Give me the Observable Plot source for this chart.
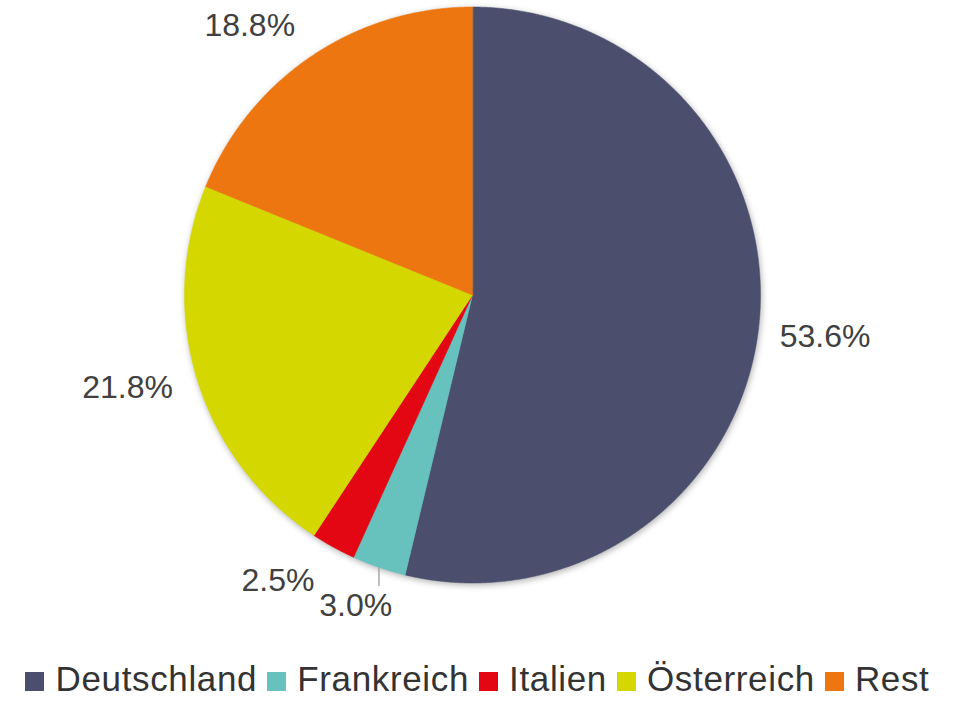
<!DOCTYPE html>
<html>
<head>
<meta charset="utf-8">
<script src="https://cdn.jsdelivr.net/npm/d3@7"></script>
<script src="https://cdn.jsdelivr.net/npm/@observablehq/plot@0.6"></script>
<style>
  html, body { margin: 0; padding: 0; background: #fff; }
  #chart { width: 959px; height: 701px; position: relative; }
  .legend { position: absolute; left: 0; top: 663px; width: 959px; text-align: center; white-space: nowrap; font-family: "Liberation Sans", Arial, sans-serif; font-size: 35px; letter-spacing: 0.65px; line-height: 32px; color: #333; padding-left: 6px; box-sizing: border-box; }
  .legend .item { display: inline; margin-right: 10px; }
  .legend .sw { width: 19px; height: 19px; margin-right: 11px; display: inline-block; vertical-align: baseline; }
</style>
</head>
<body>
<div id="chart"></div>
<script>
const categories = ["Deutschland", "Frankreich", "Italien", "Österreich", "Rest"];
const values = [53.6, 3.0, 2.5, 21.8, 18.8];
const labels = ["53.6%", "3.0%", "2.5%", "21.8%", "18.8%"];
const colors = ["#4b4f6d", "#67c2be", "#e30613", "#d4d800", "#ee7610"];

// slice angles (clockwise from 12 o'clock)
const pie = d3.pie().sort(null).value(d => d.value).startAngle(0).endAngle(2 * Math.PI);
const arcs = pie(categories.map((c, i) => ({name: c, value: values[i], label: labels[i]})));

// polygon points for each slice in unit space
const pts = [];
for (const a of arcs) {
  pts.push({name: a.data.name, x: 0, y: 0});
  const n = Math.max(2, Math.ceil((a.endAngle - a.startAngle) / 0.005));
  for (let k = 0; k <= n; k++) {
    const t = a.startAngle + (a.endAngle - a.startAngle) * k / n;
    pts.push({name: a.data.name, x: Math.sin(t), y: Math.cos(t)});
  }
}

// label placement
const R = 1.233;
const nudge = {"Rest": [-0.085, -0.087], "Italien": [-0.08, 0.087], "Frankreich": [-0.005, 0.087], "Österreich": [-0.02, 0.042]};
const lab = arcs.map(a => {
  const m = (a.startAngle + a.endAngle) / 2;
  const nd = nudge[a.data.name] || [0, 0];
  return {label: a.data.label, x: R * Math.sin(m) + nd[0], y: R * Math.cos(m) + nd[1]};
});
const fr = arcs[1];
const fm = (fr.startAngle + fr.endAngle) / 2;
const leader = [{x1: Math.sin(fm), y1: Math.cos(fm), x2: Math.sin(fm), y2: Math.cos(fm) - 0.065}];

const cx = 472, cy = 294.5, r = 288;
const plot = Plot.plot({
  width: 959,
  height: 655,
  margin: 0,
  x: {domain: [-1, 1], range: [cx - r, cx + r], axis: null},
  y: {domain: [-1, 1], range: [cy + r, cy - r], axis: null},
  color: {domain: categories, range: colors},
  style: {fontFamily: "Liberation Sans, Arial, sans-serif", background: "white"},
  marks: [
    Plot.line(pts, {x: "x", y: "y", z: "name", fill: "name", stroke: "name", strokeWidth: 0.5, curve: "linear-closed"}),
    Plot.link(leader, {x1: "x1", y1: "y1", x2: "x2", y2: "y2", stroke: "#a6a6a6", strokeWidth: 1.5}),
    Plot.text(lab, {x: "x", y: "y", text: "label", fontSize: 32, fill: "#404040"})
  ]
});
const g = plot.querySelector('g[aria-label="line"]');
if (g) g.style.filter = "drop-shadow(1px 2px 3px rgba(0,0,0,0.3))";
document.getElementById("chart").appendChild(plot);

const legend = document.createElement("div");
legend.className = "legend";
categories.forEach((c, i) => {
  const it = document.createElement("span");
  it.className = "item";
  const sw = document.createElement("span");
  sw.className = "sw";
  sw.style.background = colors[i];
  const tx = document.createElement("span");
  tx.textContent = c;
  it.appendChild(sw);
  it.appendChild(tx);
  legend.appendChild(it);
});
document.getElementById("chart").appendChild(legend);
</script>
</body>
</html>
